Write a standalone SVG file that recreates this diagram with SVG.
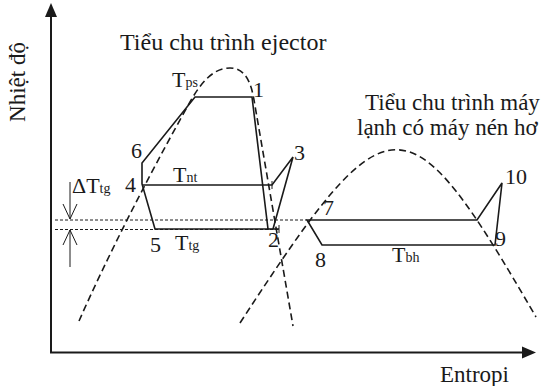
<svg xmlns="http://www.w3.org/2000/svg" width="554" height="386" viewBox="0 0 554 386">
<style>
text{font-family:'Liberation Serif','DejaVu Serif',serif;fill:#1a1a1a}
.t{font-size:23px}
.l{font-size:22px}
.s{font-size:14px}
.ax{stroke:#1a1a1a;stroke-width:2;fill:none}
.cy{stroke:#1a1a1a;stroke-width:1.6;fill:none;stroke-linejoin:miter}
.dm{stroke:#1a1a1a;stroke-width:1.6;fill:none;stroke-dasharray:7,4}
.dt{stroke:#1a1a1a;stroke-width:1;fill:none;stroke-dasharray:3,2}
.th{stroke:#1a1a1a;stroke-width:1;fill:none}
</style>
<rect width="554" height="386" fill="#fff"/>
<g id="axes" font-family="Liberation Serif, serif">
<line class="ax" x1="51" y1="353" x2="51" y2="15"/>
<polygon points="51,3 45,17 57,17" fill="#1a1a1a"/>
<line class="ax" x1="50" y1="352.5" x2="524" y2="352.5"/>
<polygon points="536,352.5 522,346.5 522,358.5" fill="#1a1a1a"/>
<text class="t" font-family="Liberation Serif, serif" transform="translate(25,82) rotate(-90)" text-anchor="middle">Nhiệt độ</text>
<text class="t" font-family="Liberation Serif, serif" x="440" y="382">Entropi</text>
</g>
<g id="domes">
<path id="dome-ejector" class="dm" d="M79,321 C105,262 145,182 190,102 C205,75 218,68 230,68 C245,68 251,82 254,100 L293,326"/>
<path id="dome-may-nen" class="dm" d="M240,323 C390,93 406,93 536,317"/>
</g>
<g id="connectors">
<line class="dt" x1="55" y1="220" x2="307" y2="220"/>
<line class="dt" x1="55" y1="229.5" x2="279" y2="229.5"/>
<line class="th" x1="70" y1="182" x2="70" y2="219"/>
<polyline class="th" points="63,204 70,219 77,204"/>
<line class="th" x1="70" y1="230" x2="70" y2="267"/>
<polyline class="th" points="63,245 70,230 77,245"/>
</g>
<g id="ejector-cycle">
<polygon class="cy" points="155,229 142,184 142,163 195,97 252,97 268,229"/>
<polyline class="cy" points="142,185 272,185 293,157 273,229"/>
<line class="cy" x1="268" y1="229" x2="279" y2="229"/>
<line class="th" x1="272" y1="181" x2="272" y2="189"/>
<line class="th" x1="279" y1="225" x2="279" y2="233"/>
</g>
<g id="refrigeration-cycle">
<polygon class="cy" points="307,220 477,220 502,183 495,245 322,245"/>
</g>
<g id="labels" font-family="Liberation Serif, serif">
<text class="t" x="120" y="50" style="font-size:24px">Tiểu chu trình ejector</text>
<text class="t" x="365" y="110">Tiểu chu trình máy</text>
<text class="t" x="357" y="135">lạnh có máy nén hơ</text>
<text class="l" x="253" y="97">1</text>
<text class="l" x="268" y="247">2</text>
<text class="l" x="294" y="160">3</text>
<text class="l" x="125" y="192">4</text>
<text class="l" x="150" y="252">5</text>
<text class="l" x="131" y="158">6</text>
<text class="l" x="323" y="215">7</text>
<text class="l" x="315" y="267">8</text>
<text class="l" x="495" y="246">9</text>
<text class="l" x="505" y="184">10</text>
<text x="172" y="87"><tspan class="l">T</tspan><tspan class="s">ps</tspan></text>
<text x="173" y="182"><tspan class="l">T</tspan><tspan class="s">nt</tspan></text>
<text x="175" y="250"><tspan class="l">T</tspan><tspan class="s">tg</tspan></text>
<text x="72" y="193"><tspan class="l">ΔT</tspan><tspan class="s">tg</tspan></text>
<text x="392" y="262"><tspan class="l">T</tspan><tspan class="s">bh</tspan></text>
</g>
</svg>
